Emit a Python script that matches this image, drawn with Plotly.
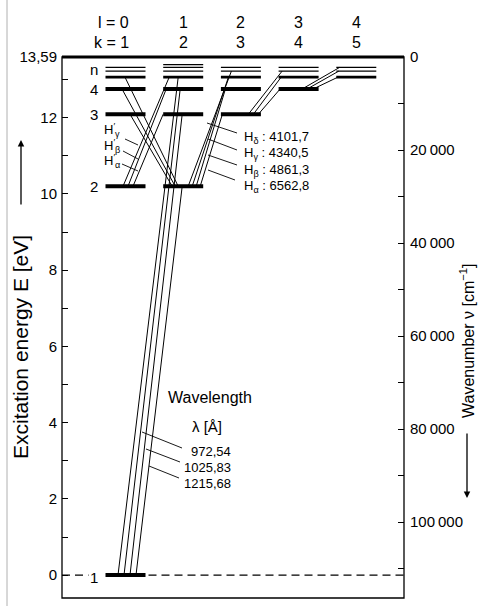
import plotly.graph_objects as go

# ---------------- data ----------------
N_LEVELS = [1, 2, 3, 4, 5, 6, 7, 8]
E_LEVELS = [0.0, 10.20, 12.09, 12.75, 13.06, 13.22, 13.32, 13.39]   # eV
E_LIMIT = 13.59
L_COLUMNS = [0, 1, 2, 3, 4]
K_COLUMNS = [1, 2, 3, 4, 5]
LEVELS_L0 = [1, 2, 3, 4, 5, 6, 7]
LEVELS_L1 = [2, 3, 4, 5, 6, 7, 8]
LEVELS_L2 = [3, 4, 5, 6, 7]
LEVELS_L3 = [4, 5, 6, 7]
LEVELS_L4 = [5, 6, 7]

# transitions: lower (n, l) -> upper (n, l)
TR_LO_N = [1, 1, 1, 1, 2, 2, 2, 2, 2, 2, 2, 2, 2, 2, 3, 3, 3, 4, 4, 4]
TR_LO_L = [0, 0, 0, 0, 0, 0, 0, 1, 1, 1, 1, 1, 1, 1, 2, 2, 2, 3, 3, 3]
TR_HI_N = [2, 3, 4, 5, 3, 4, 5, 3, 4, 5, 3, 4, 5, 6, 4, 5, 6, 5, 6, 7]
TR_HI_L = [1, 1, 1, 1, 1, 1, 1, 0, 0, 0, 2, 2, 2, 2, 3, 3, 3, 4, 4, 4]

LYMAN_WL = ["972,54", "1025,83", "1215,68"]
BALMER_NAMES = ["δ", "γ", "β", "α"]
BALMER_WL = ["4101,7", "4340,5", "4861,3", "6562,8"]
BALMER_PRIME = ["γ", "β", "α"]

E_TICKS = [0, 2, 4, 6, 8, 10, 12, 13.59]
E_TICKTEXT = ["0", "2", "4", "6", "8", "10", "12", "13,59"]
E_MINOR = [1, 3, 5, 7, 9, 11, 13]
WN_TICKS = [0, 20000, 40000, 60000, 80000, 100000]
WN_TICKTEXT = ["0", "20\u2009000", "40\u2009000", "60\u2009000", "80\u2009000", "100\u2009000"]
WN_MINOR = [10000, 30000, 50000, 70000, 90000, 110000]

# ---------------- styles / layout geometry ----------------
W, H = 485, 606
ML, MR, MT, MB = 62, 81, 57, 8
PW, PH = W - ML - MR, H - MT - MB
X_RANGE = [-1.1005, 4.8268]
Y_RANGE = [-0.60, E_LIMIT]
WN_RANGE = [116300, 0]
UNIT_PX = PW / (X_RANGE[1] - X_RANGE[0])
HALF = 20 / UNIT_PX
FONT = "Liberation Sans, Arial, sans-serif"

# endpoint offsets of transitions inside the level bars (pixels)
TR_LO_OFF = [10.5, 4.5, -1.5, -7.5, 7.5, 2.5, -2.5, -11, -8, -5, 17, 13, 9, 5, 17.5, 12.5, 7.5, 14.5, 8.5, 3.5]
TR_HI_OFF = [-1, -1, -3, -5, -20, -17, -14, 4.5, -3.5, -0.5, -18.5, -15.5, -12.5, -9.5,
             -18.5, -17.5, -16.5, -18.5, -17.5, -16.5]


def fx(px):
    return (px - ML) / PW


def fy(py):
    return (H - MB - py) / PH


def energy(n):
    return E_LEVELS[N_LEVELS.index(n)]


def bar_width(n):
    if n <= 4:
        return 4
    if n == 5:
        return 2.8
    return 1.3


fig = go.Figure()

# transitions
tx, ty = [], []
for i in range(len(TR_LO_N)):
    tx += [TR_LO_L[i] + TR_LO_OFF[i] / UNIT_PX, TR_HI_L[i] + TR_HI_OFF[i] / UNIT_PX, None]
    ty += [energy(TR_LO_N[i]), energy(TR_HI_N[i]), None]
fig.add_trace(go.Scatter(x=tx, y=ty, mode="lines", line=dict(color="black", width=1),
                         hoverinfo="skip", showlegend=False))

# level bars
groups = {}
for l, levels in zip(L_COLUMNS, [LEVELS_L0, LEVELS_L1, LEVELS_L2, LEVELS_L3, LEVELS_L4]):
    for n in levels:
        w = bar_width(n)
        gx, gy = groups.setdefault(w, ([], []))
        gx += [l - HALF, l + HALF, None]
        gy += [energy(n), energy(n), None]
for w, (gx, gy) in groups.items():
    fig.add_trace(go.Scatter(x=gx, y=gy, mode="lines", line=dict(color="black", width=w),
                             hoverinfo="skip", showlegend=False))

# invisible trace to activate the wavenumber axis
fig.add_trace(go.Scatter(x=[0], y=[0], yaxis="y2", mode="markers", marker=dict(opacity=0),
                         hoverinfo="skip", showlegend=False))

shapes = []
# frame
shapes.append(dict(type="rect", xref="paper", yref="paper", x0=0, x1=1, y0=0, y1=1,
                   line=dict(color="black", width=1.3)))
shapes.append(dict(type="line", xref="paper", yref="paper", x0=0, x1=1, y0=1, y1=1,
                   line=dict(color="black", width=3)))
# scan border line at left
shapes.append(dict(type="line", xref="paper", yref="paper", x0=fx(7), x1=fx(7),
                   y0=fy(606), y1=fy(0), line=dict(color="#b0b0b0", width=1)))
# dashed ground-state line
shapes.append(dict(type="line", xref="x", yref="y", x0=X_RANGE[0], x1=-HALF - 17 / UNIT_PX,
                   y0=energy(1), y1=energy(1), line=dict(color="black", width=1.1, dash="8px,5px")))
shapes.append(dict(type="line", xref="x", yref="y", x0=HALF + 3 / UNIT_PX, x1=X_RANGE[1],
                   y0=energy(1), y1=energy(1), line=dict(color="black", width=1.1, dash="8px,5px")))

# leader lines
LEADERS = [(142, 432, 182, 448), (146, 449, 180, 462), (149, 466, 179, 478),
           (125, 139, 138, 145), (123, 151, 138, 159), (122, 164, 138, 171),
           (207, 123, 237, 133), (208, 139, 237, 150), (208, 155, 237, 165), (208, 170, 235, 180)]
for x0, y0, x1, y1 in LEADERS:
    shapes.append(dict(type="line", xref="paper", yref="paper", x0=fx(x0), y0=fy(y0),
                       x1=fx(x1), y1=fy(y1), line=dict(color="black", width=0.9)))

ann = []


def text(px, py, s, size, xanchor="center", angle=0, yref="paper", y=None):
    ann.append(dict(x=fx(px), y=fy(py) if y is None else y, xref="paper", yref=yref, text=s,
                    showarrow=False, xanchor=xanchor, yanchor="middle", textangle=angle,
                    font=dict(family=FONT, size=size, color="black")))


# column headers
for l, k in zip(L_COLUMNS, K_COLUMNS):
    cx = ML + (l - X_RANGE[0]) * UNIT_PX
    if l == 0:
        text(cx + 6, 22, f"l = {l}", 16, xanchor="right")
        text(cx + 6, 42, f"k = {k}", 16, xanchor="right")
    else:
        text(cx, 22, f"{l}", 16)
        text(cx, 42, f"{k}", 16)

# level labels
for n in [1, 2, 3, 4]:
    text(100, 0, f"{n}", 15, xanchor="right", yref="y", y=energy(n) - (0.07 if n == 1 else 0))
text(100, 0, "n", 15, xanchor="right", yref="y", y=energy(6) + 0.03)

# Lyman labels
text(210, 397, "Wavelength", 16)
text(207, 426, "λ [Å]", 15)
for s, py in zip(LYMAN_WL, [451, 467, 483]):
    text(233, py, s, 13, xanchor="right")

# H' labels
for g, py in zip(BALMER_PRIME, [130, 146, 161]):
    text(102, py, f"H<sup>′</sup><sub>{g}</sub>", 13, xanchor="left")

# Balmer labels
for g, wl, py in zip(BALMER_NAMES, BALMER_WL, [137, 153, 170, 186]):
    text(242, py, f"H<sub>{g}</sub> : {wl}", 13, xanchor="left")

# axis titles
text(20, 347, "Excitation energy E [eV]", 21, angle=-90)
text(467, 341, "Wavenumber ν [cm<sup>−1</sup>]", 16, angle=-90)

# arrows
ann.append(dict(x=fx(21), y=fy(140), xref="paper", yref="paper", ax=0, ay=66, text="",
                showarrow=True, arrowhead=2, arrowwidth=1.3, arrowsize=1, arrowcolor="black"))
ann.append(dict(x=fx(467), y=fy(498), xref="paper", yref="paper", ax=0, ay=-66, text="",
                showarrow=True, arrowhead=2, arrowwidth=1.3, arrowsize=1, arrowcolor="black"))

fig.update_layout(
    width=W, height=H, margin=dict(l=ML, r=MR, t=MT, b=MB, pad=0),
    paper_bgcolor="white", plot_bgcolor="white",
    showlegend=False, shapes=shapes, annotations=ann,
    xaxis=dict(range=X_RANGE, visible=False, fixedrange=True),
    yaxis=dict(range=Y_RANGE, tickvals=E_TICKS, ticktext=E_TICKTEXT, ticks="inside",
               ticklen=6, tickwidth=1, tickcolor="black", showgrid=False, zeroline=False,
               showline=False, ticklabelstandoff=4,
               minor=dict(tickvals=E_MINOR, ticks="inside", ticklen=6, tickwidth=1,
                          tickcolor="black", showgrid=False),
               tickfont=dict(family=FONT, size=15, color="black")),
    yaxis2=dict(range=WN_RANGE, overlaying="y", side="right", tickvals=WN_TICKS,
                ticktext=WN_TICKTEXT, ticks="inside", ticklen=6, tickwidth=1,
                tickcolor="black", showgrid=False, zeroline=False, showline=False,
                ticklabelstandoff=5,
                minor=dict(tickvals=WN_MINOR, ticks="inside", ticklen=6, tickwidth=1,
                           tickcolor="black", showgrid=False),
                tickfont=dict(family=FONT, size=15, color="black")),
)

fig.write_html("out.html", config={"displayModeBar": False},
               post_script="document.body.style.margin='0px';")
